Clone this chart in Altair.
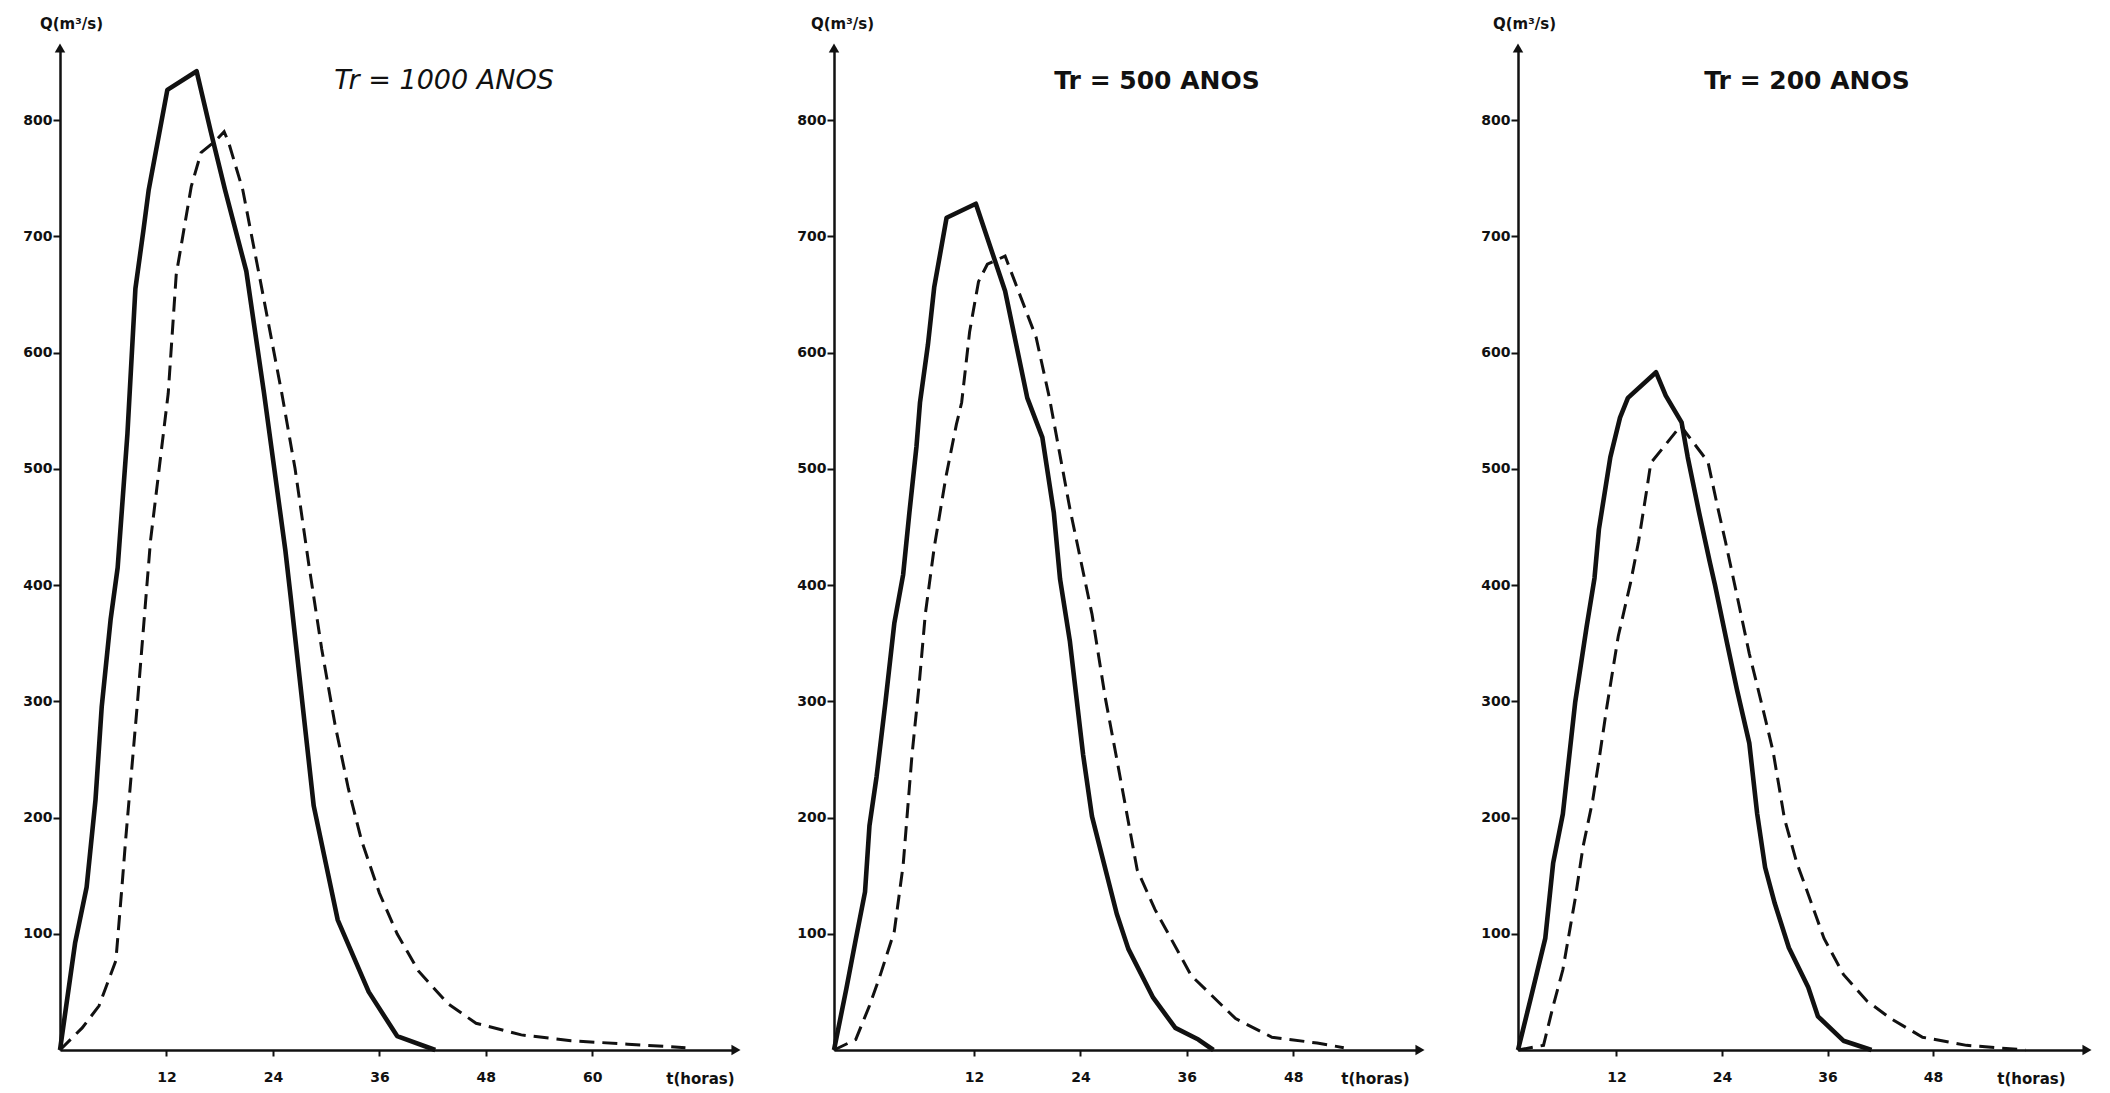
import altair as alt
import pandas as pd

# ---------------- data ----------------
# Tr = 1000 anos
t1_solid = [0, 1.7, 3, 4, 4.7, 5.7, 6.5, 7.6, 8.5, 9.4, 10, 12.1, 15.4, 17, 18.6, 21, 23, 25.4, 26, 28.6, 31.3, 34.8, 38, 42.3]
q1_solid = [0, 92, 140, 215, 295, 370, 415, 530, 655, 705, 740, 826, 842, 790, 740, 670, 565, 430, 390, 210, 112, 50, 12, 0]
t1_dash = [0, 2.5, 4.4, 6.3, 7, 7.4, 8.7, 10.2, 12.2, 13.1, 14.8, 15.9, 17.5, 18.5, 19, 20.6, 22.6, 25, 26.5, 28, 29.5, 31, 32.5, 34, 36, 38, 40.4, 43.7, 46.9, 52, 57.6, 64, 70.5]
q1_dash = [0, 19, 38, 77, 142, 181, 296, 438, 565, 667, 743, 772, 782, 790, 781, 740, 661, 565, 500, 420, 345, 280, 225, 180, 135, 100, 68, 40, 23, 13, 8, 5, 2]

# Tr = 500 anos
t2_solid = [-3.8, -2.4, -1.35, -0.3, 0.2, 1, 2, 3, 4, 4.7, 5.5, 5.9, 6.8, 7.5, 8.9, 12.2, 15.5, 18, 19.7, 21, 21.7, 22.8, 24.3, 25.3, 28.1, 29.4, 32.2, 34.7, 37.3, 39]
q2_solid = [0, 53, 95, 136, 193, 235, 299, 367, 409, 462, 519, 557, 607, 656, 716, 728, 653, 561, 527, 462, 405, 352, 254, 201, 117, 87, 45, 19, 9, 0]
t2_dash = [-3.8, -1.35, 0.2, 1.4, 3, 4, 5, 5.8, 6.5, 7.5, 8.8, 10, 10.6, 11.5, 12.5, 13.5, 15.5, 17, 19, 20.5, 22.8, 25.3, 26.8, 28.3, 30.4, 32.4, 36.5, 41.5, 45.6, 50.7, 53.7]
q2_dash = [0, 9, 38, 64, 102, 159, 254, 314, 375, 432, 492, 538, 557, 618, 661, 676, 683, 653, 613, 561, 466, 375, 303, 242, 155, 121, 64, 27, 11, 6, 2]

# Tr = 200 anos
t3_solid = [0.8, 2.3, 3.9, 4.8, 5.9, 7.3, 8.6, 9.5, 10, 11.3, 12.4, 13.3, 16.5, 17.6, 19.4, 20.1, 21.4, 22.6, 23.2, 24.6, 25.7, 27.1, 28, 28.9, 30, 31.6, 33.8, 34.9, 37.8, 41]
q3_solid = [0, 46, 96, 161, 203, 299, 364, 406, 448, 510, 544, 561, 583, 563, 540, 510, 462, 420, 400, 349, 310, 264, 203, 157, 126, 88, 54, 29, 8, 0]
t3_dash = [0.8, 3.7, 4.8, 5.9, 7.3, 8.2, 9.3, 10, 10.9, 12.2, 13.6, 14.5, 15.4, 15.9, 19.3, 22.4, 23.5, 24.4, 25.7, 27.1, 28.6, 29.8, 31.1, 32.5, 33.8, 35.6, 37.8, 40.5, 43.2, 46.8, 51.8, 58.5]
q3_dash = [0, 4, 38, 69, 130, 175, 215, 249, 295, 356, 402, 437, 480, 505, 537, 506, 467, 437, 391, 341, 295, 257, 199, 161, 134, 96, 65, 42, 27, 11, 4, 0]

titles = ["Tr = 1000 ANOS", "Tr = 500 ANOS", "Tr = 200 ANOS"]
y_ticks = [100, 200, 300, 400, 500, 600, 700, 800]
x_ticks_1 = [12, 24, 36, 48, 60]
x_ticks_2 = [12, 24, 36, 48]
x_ticks_3 = [12, 24, 36, 48]

Q_MAX = 862
HEIGHT = 1002
INK = "#111111"
FONT = "DejaVu Sans"


def panel(ts, qs, td, qd, xmin, xmax, width, xticks, title, title_x, title_size,
          title_style, title_weight, tlab_x, q_dx):
    solid = pd.DataFrame({"t": ts, "q": qs})
    dash = pd.DataFrame({"t": td, "q": qd})
    xs = alt.Scale(domain=[xmin, xmax], nice=False, zero=False)
    ys = alt.Scale(domain=[0, Q_MAX], nice=False)
    xax = alt.Axis(values=xticks, grid=False, title="t(horas)", titleX=tlab_x, titleY=28,
                   titleAlign="center", titleBaseline="middle", titleFont=FONT,
                   titleFontSize=15, titleFontWeight="bold", titleColor=INK,
                   labelFont=FONT, labelFontSize=14, labelFontWeight="bold", labelColor=INK,
                   labelPadding=14, tickSize=6, tickWidth=2, tickColor=INK,
                   domainColor=INK, domainWidth=2.5, labelFlush=False)
    yax = alt.Axis(values=y_ticks, grid=False, title="Q(m³/s)", titleAngle=0,
                   titleX=q_dx, titleY=-25, titleAlign="center", titleBaseline="middle",
                   titleFont=FONT, titleFontSize=15, titleFontWeight="bold", titleColor=INK,
                   labelFont=FONT, labelFontSize=14, labelFontWeight="bold", labelColor=INK,
                   labelPadding=1, tickSize=7, tickWidth=2, tickColor=INK,
                   domainColor=INK, domainWidth=2.5)
    s = alt.Chart(solid).mark_line(color=INK, strokeWidth=4.6, strokeJoin="round").encode(
        x=alt.X("t:Q", scale=xs, axis=xax), y=alt.Y("q:Q", scale=ys, axis=yax))
    d = alt.Chart(dash).mark_line(color=INK, strokeWidth=3, strokeDash=[15, 8]).encode(
        x=alt.X("t:Q", scale=xs), y=alt.Y("q:Q", scale=ys))
    arrows_df = pd.DataFrame({"t": [xmax, xmin], "q": [0, Q_MAX],
                              "shape": ["triangle-right", "triangle-up"]})
    a = alt.Chart(arrows_df).mark_point(filled=True, color=INK, size=110, opacity=1).encode(
        x=alt.X("t:Q", scale=xs), y=alt.Y("q:Q", scale=ys),
        shape=alt.Shape("shape:N", scale=None))
    ttl = alt.Chart(pd.DataFrame({"txt": [title]})).mark_text(
        font=FONT, fontSize=title_size, fontStyle=title_style, fontWeight=title_weight,
        color=INK, align="center", baseline="middle").encode(
        text="txt:N", x=alt.value(title_x), y=alt.value(33))
    return alt.layer(s, d, a, ttl).properties(width=width, height=HEIGHT)


p1 = panel(t1_solid, q1_solid, t1_dash, q1_dash, 0, 76.2, 676, x_ticks_1, titles[0], 384, 27,
           "italic", "normal", 640, 11)
p2 = panel(t2_solid, q2_solid, t2_dash, q2_dash, -3.8, 62.3, 586, x_ticks_2, titles[1], 323, 25,
           "normal", "bold", 541, 8)
p3 = panel(t3_solid, q3_solid, t3_dash, q3_dash, 0.8, 65.5, 569, x_ticks_3, titles[2], 289, 25,
           "normal", "bold", 513, 6)

chart = alt.hconcat(p1, p2, p3, spacing=98, bounds="flush").properties(
    padding={"left": 14, "top": 8, "right": 5, "bottom": 5},
    background="white",
).configure_view(stroke=None)

chart.save("out.html", embed_options={"renderer": "svg", "actions": False})
